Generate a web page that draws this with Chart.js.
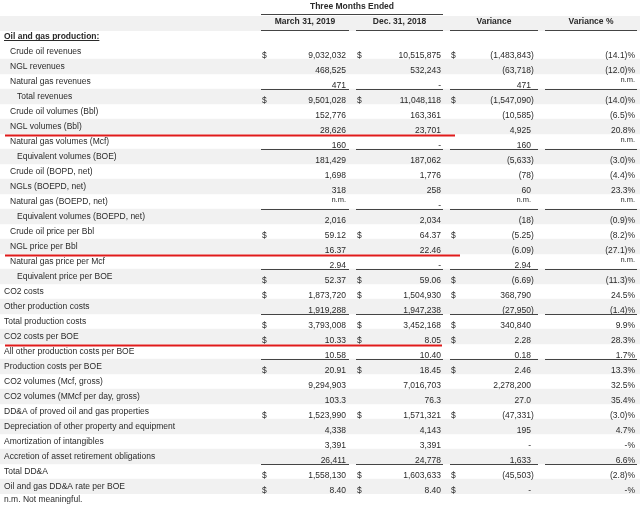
<!DOCTYPE html>
<html>
<head>
<meta charset="utf-8">
<script src="https://cdn.jsdelivr.net/npm/chart.js@4.4.0/dist/chart.umd.min.js"></script>
<style>
html,body{margin:0;padding:0;background:#fff;}
canvas{display:block;}
</style>
</head>
<body>
<canvas id="c" width="640" height="506"></canvas>
<script>
// ---------- DATA ----------
const periodTitle = 'Three Months Ended';
const columnHeaders = ['March 31, 2019', 'Dec. 31, 2018', 'Variance', 'Variance %'];
const sectionTitle = 'Oil and gas production:';
const footnote = 'n.m. Not meaningful.';

const rowLabels = [
  'Crude oil revenues', 'NGL revenues', 'Natural gas revenues', 'Total revenues',
  'Crude oil volumes (Bbl)', 'NGL volumes (Bbl)', 'Natural gas volumes (Mcf)', 'Equivalent volumes (BOE)',
  'Crude oil (BOPD, net)', 'NGLs (BOEPD, net)', 'Natural gas (BOEPD, net)', 'Equivalent volumes (BOEPD, net)',
  'Crude oil price per Bbl', 'NGL price per Bbl', 'Natural gas price per Mcf', 'Equivalent price per BOE',
  'CO2 costs', 'Other production costs', 'Total production costs', 'CO2 costs per BOE',
  'All other production costs per BOE', 'Production costs per BOE', 'CO2 volumes (Mcf, gross)',
  'CO2 volumes (MMcf per day, gross)', 'DD&A of proved oil and gas properties',
  'Depreciation of other property and equipment', 'Amortization of intangibles',
  'Accretion of asset retirement obligations', 'Total DD&A', 'Oil and gas DD&A rate per BOE'
];
const mar2019 = ['9,032,032','468,525','471','9,501,028','152,776','28,626','160','181,429','1,698','318','n.m.','2,016','59.12','16.37','2.94','52.37','1,873,720','1,919,288','3,793,008','10.33','10.58','20.91','9,294,903','103.3','1,523,990','4,338','3,391','26,411','1,558,130','8.40'];
const dec2018 = ['10,515,875','532,243','-','11,048,118','163,361','23,701','-','187,062','1,776','258','-','2,034','64.37','22.46','-','59.06','1,504,930','1,947,238','3,452,168','8.05','10.40','18.45','7,016,703','76.3','1,571,321','4,143','3,391','24,778','1,603,633','8.40'];
const variance = ['(1,483,843)','(63,718)','471','(1,547,090)','(10,585)','4,925','160','(5,633)','(78)','60','n.m.','(18)','(5.25)','(6.09)','2.94','(6.69)','368,790','(27,950)','340,840','2.28','0.18','2.46','2,278,200','27.0','(47,331)','195','-','1,633','(45,503)','-'];
const variancePct = ['(14.1)%','(12.0)%','n.m.','(14.0)%','(6.5)%','20.8%','n.m.','(3.0)%','(4.4)%','23.3%','n.m.','(0.9)%','(8.2)%','(27.1)%','n.m.','(11.3)%','24.5%','(1.4)%','9.9%','28.3%','1.7%','13.3%','32.5%','35.4%','(3.0)%','4.7%','-%','6.6%','(2.8)%','-%'];
const dollarRows = [0, 3, 12, 15, 16, 18, 19, 21, 24, 28, 29];
const subtotalRows = [2, 6, 10, 14, 17, 20, 27];
const highlightRows = [5, 13, 19];
const rowIndent = [1,1,1,2,1,1,1,2,1,1,1,2,1,1,1,2,0,0,0,0,0,0,0,0,0,0,0,0,0,0];

// ---------- LAYOUT / STYLE ----------
const S = {
  font: '8.5px "Liberation Sans", Arial, sans-serif',
  bold: 'bold 8.5px "Liberation Sans", Arial, sans-serif',
  small: '7.5px "Liberation Sans", Arial, sans-serif',
  text: '#2a2a2a',
  stripe: '#f1f1f1',
  rule: '#444444',
  red: '#e01b1b',
  indentX: [4, 10, 17],
  cols: [
    {l: 261, r: 349, dollar: 262, num: 346},
    {l: 356, r: 443, dollar: 357, num: 441},
    {l: 450, r: 538, dollar: 451, num: 531},
    {l: 545, r: 637, num: 635}
  ],
  redX: [[5, 455], [5, 460], [5, 442]]
};

const columns = [mar2019, dec2018, variance, variancePct];
const stripeData = rowLabels.map((_, i) => (i % 2 === 1 ? [0, 640] : null));

const tablePlugin = {
  id: 'tableText',
  beforeDatasetsDraw(chart) {
    const {ctx, chartArea} = chart;
    const top = chartArea.top;
    ctx.save();
    ctx.fillStyle = S.stripe;
    ctx.fillRect(0, top - 28, 640, 15);
    ctx.restore();
  },
  afterDatasetsDraw(chart) {
    const {ctx, chartArea, scales} = chart;
    const y = scales.y, x = scales.x;
    const top = chartArea.top;
    const half = (y.getPixelForValue(1) - y.getPixelForValue(0)) / 2;
    const px = v => x.getPixelForValue(v);
    ctx.save();
    ctx.fillStyle = S.text;
    ctx.textBaseline = 'alphabetic';

    const hline = (x0, x1, yy, color, w) => {
      ctx.beginPath();
      ctx.strokeStyle = color;
      ctx.lineWidth = w;
      ctx.moveTo(px(x0), yy);
      ctx.lineTo(px(x1), yy);
      ctx.stroke();
    };

    // header
    ctx.font = S.bold;
    ctx.textAlign = 'center';
    ctx.fillText(periodTitle, px((S.cols[0].l + S.cols[1].r) / 2), top - 35);
    hline(S.cols[0].l, S.cols[1].r, top - 29.5, S.rule, 1);
    columnHeaders.forEach((h, c) => {
      ctx.fillText(h, px((S.cols[c].l + S.cols[c].r) / 2), top - 20);
      hline(S.cols[c].l, S.cols[c].r, top - 13.5, S.rule, 1);
    });

    // section title
    ctx.textAlign = 'left';
    ctx.fillText(sectionTitle, px(4), top - 5);
    const tw = ctx.measureText(sectionTitle).width;
    hline(4, 4 + tw, top - 3.5, S.text, 1);

    // rows
    rowLabels.forEach((lab, i) => {
      const cy = y.getPixelForValue(i);
      const rTop = cy - half;
      ctx.font = S.font;
      ctx.textAlign = 'left';
      ctx.fillText(lab, px(S.indentX[rowIndent[i]]), rTop + 10);
      columns.forEach((col, c) => {
        const v = col[i];
        const L = S.cols[c];
        if (c < 3 && dollarRows.includes(i)) {
          ctx.font = S.font;
          ctx.textAlign = 'left';
          ctx.fillText('$', px(L.dollar), rTop + 14);
        }
        if (v === 'n.m.') {
          ctx.font = S.small;
          ctx.textAlign = 'right';
          ctx.fillText(v, px(L.num), rTop + 8);
          return;
        }
        ctx.font = S.font;
        ctx.textAlign = 'right';
        let xr = px(L.num);
        if (c < 3 && v.endsWith(')')) xr += ctx.measureText(')').width;
        ctx.fillText(v, xr, rTop + 14);
      });
      if (subtotalRows.includes(i)) {
        S.cols.forEach(L => hline(L.l, L.r, rTop + 15.5, S.rule, 1));
      }
    });

    // highlight marks
    highlightRows.forEach((r, k) => {
      const rb = y.getPixelForValue(r) + half;
      hline(S.redX[k][0], S.redX[k][1], rb + 1.5, S.red, 2);
    });

    // footnote
    ctx.font = S.font;
    ctx.textAlign = 'left';
    ctx.fillStyle = S.text;
    ctx.fillText(footnote, px(4), chartArea.bottom + 8);
    ctx.restore();
  }
};

new Chart(document.getElementById('c'), {
  type: 'bar',
  data: {
    labels: rowLabels,
    datasets: [{
      data: stripeData,
      backgroundColor: S.stripe,
      borderWidth: 0,
      barPercentage: 1,
      categoryPercentage: 1
    }]
  },
  options: {
    indexAxis: 'y',
    responsive: false,
    animation: false,
    events: [],
    layout: {padding: {top: 44, bottom: 12, left: 0, right: 0}},
    scales: {
      x: {type: 'linear', min: 0, max: 640, display: false},
      y: {type: 'category', display: false, offset: true}
    },
    plugins: {legend: {display: false}, tooltip: {enabled: false}}
  },
  plugins: [tablePlugin]
});
</script>
</body>
</html>
